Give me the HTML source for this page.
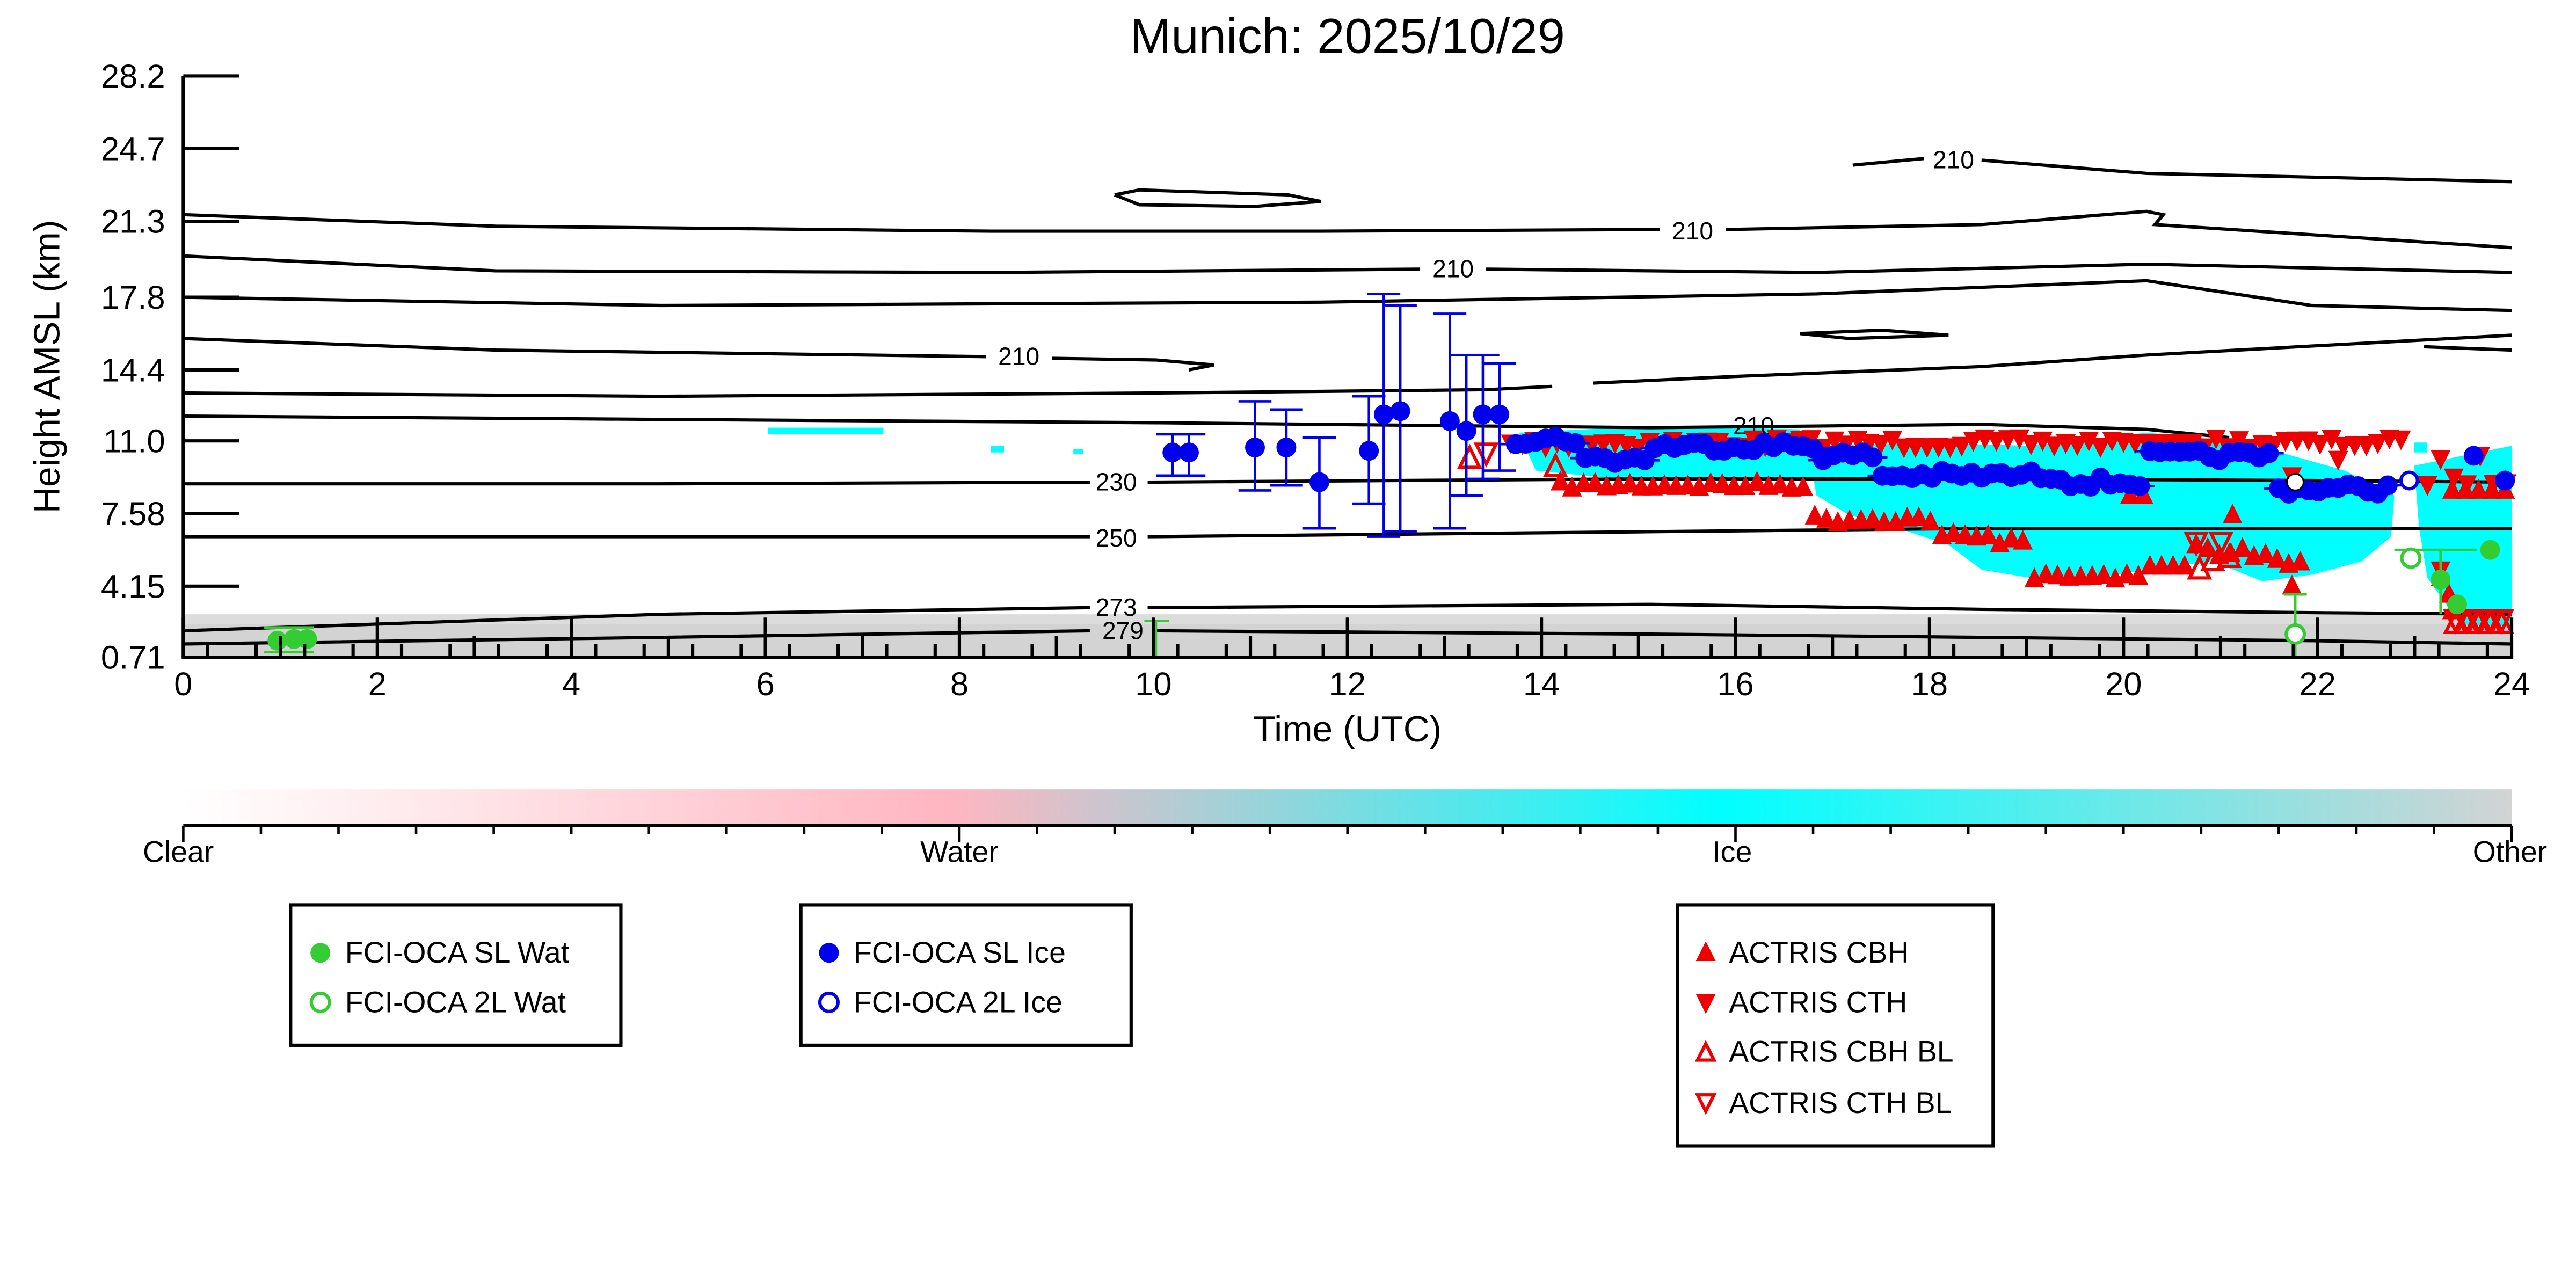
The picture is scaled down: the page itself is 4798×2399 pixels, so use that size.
<!DOCTYPE html>
<html><head><meta charset="utf-8"><style>
html,body{margin:0;padding:0;background:#fff}
svg{display:block}
text{font-family:"Liberation Sans",sans-serif}
</style></head><body>
<svg id="s" width="4798" height="2399" viewBox="0 0 1560 780" xmlns="http://www.w3.org/2000/svg">
<defs>
<linearGradient id="cb" x1="0" x2="1" y1="0" y2="0">
<stop offset="0" stop-color="#ffffff"/>
<stop offset="0.33" stop-color="#ffb6c1"/>
<stop offset="0.66" stop-color="#00ffff"/>
<stop offset="1" stop-color="#d3d3d3"/>
</linearGradient>
</defs>
<text x="816" y="32" font-size="30" text-anchor="middle">Munich: 2025/10/29</text>
<!-- ground -->
<rect x="111" y="372" width="1410" height="26" fill="#dcdcdc"/>
<rect x="111" y="378" width="1410" height="20" fill="#d3d3d3"/>
<!-- cyan clouds -->
<g fill="#00ffff">
<polygon points="1095,272 1160,268 1230,270 1300,262 1360,268 1420,285 1450,300 1448,325 1430,340 1400,348 1370,352 1340,340 1300,345 1260,352 1230,350 1200,345 1180,330 1150,320 1120,312 1100,300"/>
<polygon points="920,262 1000,258 1090,260 1100,290 1050,290 980,290 930,285"/>
<polygon points="1462,282 1521,270 1521,380 1490,378 1470,350 1465,320"/>
<rect x="465" y="259" width="70" height="4"/>
<rect x="600" y="270" width="8" height="4"/>
<rect x="650" y="272" width="6" height="3"/>
<rect x="1462" y="268" width="8" height="6"/>
</g>
<!-- contours -->
<g fill="none" stroke="#000" stroke-width="2">
<polyline points="111,130 300,137 600,140 800,140 1005,139"/>
<polyline points="1045,139 1200,136 1300,128 1310,130 1305,136 1521,150"/>
<polyline points="111,155 300,164 600,165 860,163"/>
<polyline points="900,163 1100,165 1300,160 1521,165"/>
<polyline points="111,180 400,185 800,183 1100,178 1300,170 1400,185 1521,188"/>
<polyline points="111,205 300,212 597,216"/>
<polyline points="637,217 700,218 735,221 720,224"/>
<polyline points="111,238 400,240 700,238 900,236 940,234"/>
<polyline points="111,252 400,254 700,256 900,258 1000,259 1100,258 1200,257 1300,260 1350,265"/>
<polyline points="1122,100 1165,96"/>
<polyline points="1200,97 1300,105 1521,110"/>
<polyline points="675,118 690,115 780,118 800,122 760,125 690,124 675,118"/>
<polyline points="965,232 1050,228 1200,222 1300,215 1521,203"/>
<polyline points="1090,202 1140,200 1180,203 1120,205 1090,202"/>
<polyline points="1468,210 1521,212"/>
<polyline points="111,293 400,293 660,292"/>
<polyline points="695,292 1000,290 1200,290 1400,291 1521,292"/>
<polyline points="111,325 400,325 660,325"/>
<polyline points="695,325 1000,322 1200,320 1400,320 1521,320"/>
<polyline points="111,382 400,372 660,368"/>
<polyline points="695,368 1000,366 1200,369 1400,371 1521,372"/>
<polyline points="111,390 400,386 660,382"/>
<polyline points="700,382 1000,384 1200,386 1400,388 1521,390"/>
</g>
<g font-size="15" text-anchor="middle">
<text x="1025" y="145">210</text><text x="880" y="168">210</text><text x="617" y="221">210</text>
<text x="1183" y="102">210</text><text x="1062" y="263">210</text>
<text x="676" y="297">230</text><text x="676" y="331">250</text>
<text x="676" y="373">273</text><text x="680" y="387">279</text>
</g>
<g id="data"></g>
<!-- axes -->
<g stroke="#000" stroke-width="2" fill="none">
<line x1="111" y1="46" x2="111" y2="398"/>
<line x1="110" y1="398" x2="1522" y2="398"/>
</g>
<g id="ticks" stroke="#000" stroke-width="2"></g>
<g font-size="20" text-anchor="end">
<text x="100" y="53">28.2</text><text x="100" y="97">24.7</text><text x="100" y="141">21.3</text>
<text x="100" y="187">17.8</text><text x="100" y="231">14.4</text><text x="100" y="274">11.0</text>
<text x="100" y="318">7.58</text><text x="100" y="362">4.15</text><text x="100" y="405">0.71</text>
</g>
<g font-size="20" text-anchor="middle" id="xl"></g>
<text x="816" y="449" font-size="22" text-anchor="middle">Time (UTC)</text>
<text x="36" y="222" font-size="22" text-anchor="middle" transform="rotate(-90 36 222)">Height AMSL (km)</text>
<!-- colorbar -->
<rect x="111" y="478" width="1410" height="22" fill="url(#cb)"/>
<line x1="111" y1="500" x2="1521" y2="500" stroke="#000" stroke-width="2"/>
<g id="cbt" stroke="#000" stroke-width="1.5"></g>
<g font-size="18" text-anchor="middle">
<text x="108" y="522">Clear</text><text x="581" y="522">Water</text><text x="1049" y="522">Ice</text><text x="1520" y="522">Other</text>
</g>
<!-- legends -->
<g fill="none" stroke="#000" stroke-width="2">
<rect x="176" y="548" width="200" height="85"/>
<rect x="485" y="548" width="200" height="85"/>
<rect x="1016" y="548" width="191" height="146"/>
</g>
<g font-size="18">
<circle cx="194" cy="577" r="6" fill="#33cc33"/><text x="209" y="583">FCI-OCA SL Wat</text>
<circle cx="194" cy="607" r="5.5" fill="none" stroke="#33cc33" stroke-width="2"/><text x="209" y="613">FCI-OCA 2L Wat</text>
<circle cx="502" cy="577" r="6" fill="#0000ee"/><text x="517" y="583">FCI-OCA SL Ice</text>
<circle cx="502" cy="607" r="5.5" fill="none" stroke="#0000ee" stroke-width="2"/><text x="517" y="613">FCI-OCA 2L Ice</text>
<polygon points="1027,582 1039,582 1033,570" fill="#ee0000"/><text x="1047" y="583">ACTRIS CBH</text>
<polygon points="1027,602 1039,602 1033,614" fill="#ee0000"/><text x="1047" y="613">ACTRIS CTH</text>
<polygon points="1028,642 1038,642 1033,632" fill="none" stroke="#ee0000" stroke-width="2"/><text x="1047" y="643">ACTRIS CBH BL</text>
<polygon points="1028,663 1038,663 1033,673" fill="none" stroke="#ee0000" stroke-width="2"/><text x="1047" y="674">ACTRIS CTH BL</text>
</g>
</svg>
<script>
var NS="http://www.w3.org/2000/svg",d=document.getElementById("data");
function el(t,a,p){var e=document.createElementNS(NS,t);for(var k in a)e.setAttribute(k,a[k]);(p||d).appendChild(e);return e;}
var seed=7;function r(){seed=(seed*16807)%2147483647;return seed/2147483647;}
// up triangles (CBH)
function up(x,y,f,c){el("polygon",{points:(x-6)+","+(y+5)+" "+(x+6)+","+(y+5)+" "+x+","+(y-7),fill:f?c:"none",stroke:c,"stroke-width":f?0:2});}
function dn(x,y,f,c){el("polygon",{points:(x-6)+","+(y-5)+" "+(x+6)+","+(y-5)+" "+x+","+(y+7),fill:f?c:"none",stroke:c,"stroke-width":f?0:2});}
var R="#ee0000",B="#0000ee",G="#33cc33";
// CBH track
function cbh(x){if(x<1095)return 292+4*r();if(x<1170)return 312+5*r();if(x<1230)return 322+8*r();if(x<1300)return 348+3*r();if(x<1330)return 343;if(x<1400)return 320+35*(x-1330)/70*r()+10;return 300+10*r();}
for(var x=945;x<1400;x+=7){up(x,cbh(x),1,R);}
for(var x=1290;x<1300;x+=8)up(x,300,1,R);
up(1388,355,1,R);up(1352,312,1,R);up(1478,350,1,R);up(1483,360,1,R);
for(var x=1485;x<1521;x+=8)up(x,297,1,R);
// CTH
for(var x=915;x<1460;x+=7){var y=265+6*r();if(x>1290&&x<1330)y=268;dn(x,y,1,R);}
for(var x=1470;x<1521;x+=8)dn(x,275+r()*20,1,R);
dn(1388,288,1,R);dn(1416,278,1,R);
// BL
up(1332,345,0,R);up(1340,340,0,R);up(1350,338,0,R);dn(1330,328,0,R);dn(1345,328,0,R);
up(942,283,0,R);up(890,278,0,R);dn(900,274,0,R);
for(var x=1487;x<1521;x+=7){dn(x,375,0,R);up(x,378,0,R);}
dn(1478,345,1,R);up(1485,370,1,R);
// blue error bars + points
var eb=[[710,274,263,288],[720,274,263,288],[760,271,243,297],[779,271,248,294],[799,292,265,320],[829,273,240,305],[838,251,178,325],[848,249,185,322],[878,255,190,320],[888,261,215,300],[898,251,215,290],[908,251,220,285]];
eb.forEach(function(p){el("line",{x1:p[0],y1:p[2],x2:p[0],y2:p[3],stroke:B,"stroke-width":1.5});el("line",{x1:p[0]-10,y1:p[2],x2:p[0]+10,y2:p[2],stroke:B,"stroke-width":1.5});el("line",{x1:p[0]-10,y1:p[3],x2:p[0]+10,y2:p[3],stroke:B,"stroke-width":1.5});el("circle",{cx:p[0],cy:p[1],r:6,fill:B});});
function bt(x){if(x<960)return 266;if(x<1000)return 278;if(x<1100)return 270;if(x<1140)return 276;if(x<1250)return 288;if(x<1300)return 292;if(x<1380)return 276;if(x<1450)return 296;return 286;}
for(var x=918;x<1450;x+=6){var y=bt(x)+6*(r()-0.5);el("line",{x1:x-9,y1:y,x2:x+9,y2:y,stroke:B,"stroke-width":1.5});el("circle",{cx:x,cy:y,r:6,fill:B});}
el("circle",{cx:1498,cy:276,r:6,fill:B});el("circle",{cx:1517,cy:291,r:6,fill:B});
el("circle",{cx:1390,cy:292,r:5,fill:"#fff",stroke:"#000","stroke-width":1});
el("circle",{cx:1459,cy:291,r:5,fill:"#fff",stroke:B,"stroke-width":2});
// green
[[168,388],[178,387],[186,387]].forEach(function(p){el("circle",{cx:p[0],cy:p[1],r:6,fill:G});});
el("line",{x1:160,y1:380,x2:190,y2:380,stroke:G,"stroke-width":1.5});el("line",{x1:160,y1:395,x2:190,y2:395,stroke:G,"stroke-width":1.5});
el("line",{x1:700,y1:376,x2:700,y2:398,stroke:G,"stroke-width":1.5});el("line",{x1:693,y1:376,x2:708,y2:376,stroke:G,"stroke-width":1.5});
el("line",{x1:1390,y1:360,x2:1390,y2:398,stroke:G,"stroke-width":1.5});el("line",{x1:1383,y1:360,x2:1397,y2:360,stroke:G,"stroke-width":1.5});
el("circle",{cx:1390,cy:384,r:5.5,fill:"#fff",stroke:G,"stroke-width":2});
el("line",{x1:1450,y1:333,x2:1500,y2:333,stroke:G,"stroke-width":1.5});el("line",{x1:1478,y1:333,x2:1478,y2:372,stroke:G,"stroke-width":1.5});
el("circle",{cx:1460,cy:338,r:5.5,fill:"#fff",stroke:G,"stroke-width":2});
el("circle",{cx:1478,cy:351,r:6,fill:G});el("circle",{cx:1488,cy:366,r:6,fill:G});el("circle",{cx:1508,cy:333,r:6,fill:G});
// ticks
var t=document.getElementById("ticks"),xl=document.getElementById("xl");
[46,90,134,180,224,267,311,355,398].forEach(function(y){el("line",{x1:111,y1:y,x2:145,y2:y},t);});
for(var i=0;i<=24;i++){var x=111+i*58.75;el("line",{x1:x,y1:398,x2:x,y2:i%2?385:374},t);
 if(i%2==0){var tx=el("text",{x:x,y:421},xl);tx.textContent=i;}}
for(var i=0;i<48;i++){var x=111+i*29.375+14.7;el("line",{x1:x,y1:398,x2:x,y2:390},t);}
var c=document.getElementById("cbt");
for(var i=0;i<=30;i++){var x=111+i*47;el("line",{x1:x,y1:500,x2:x,y2:i%10?505:510},c);}
</script>
</body></html>
